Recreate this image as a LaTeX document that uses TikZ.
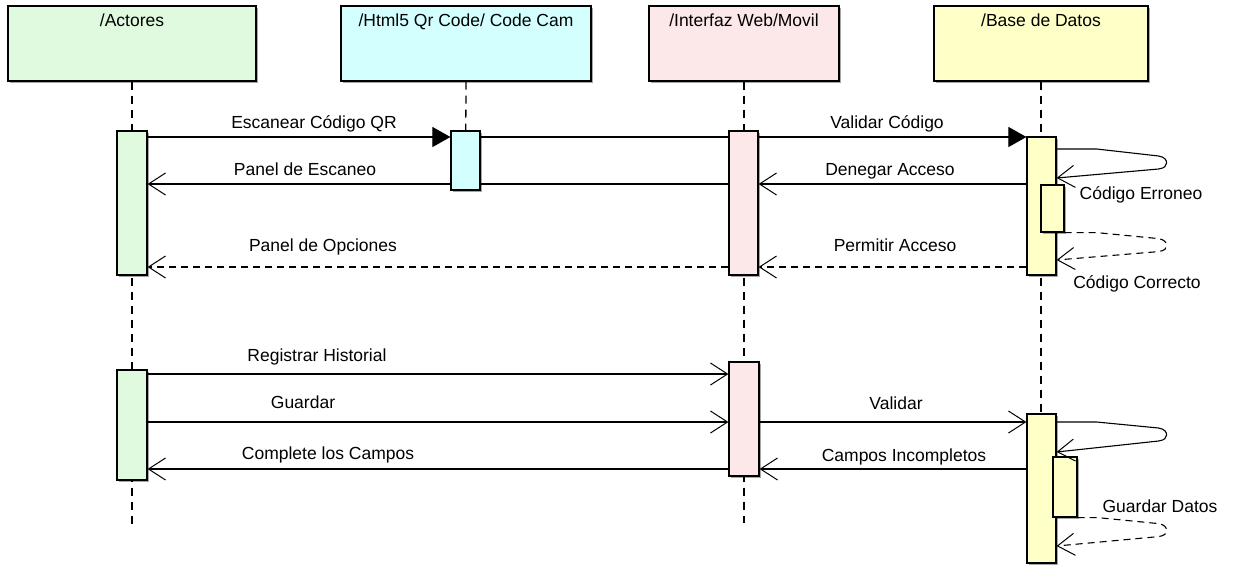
\documentclass[tikz,border=0pt]{standalone}
\usepackage{fontspec}
\setmainfont{Liberation Sans}
\usetikzlibrary{arrows.meta,shadows,backgrounds,calc}
\definecolor{cA}{RGB}{224,250,224}
\definecolor{cH}{RGB}{212,255,255}
\definecolor{cI}{RGB}{252,232,232}
\definecolor{cB}{RGB}{255,255,200}
\begin{document}
\begin{tikzpicture}[x=1pt,y=-1pt,
  shd/.style={drop shadow={shadow xshift=2pt,shadow yshift=-2pt,fill=black,opacity=0.35}},
  hdr/.style={draw, line width=1.2pt, shd, inner sep=0pt, minimum height=75pt},
  act/.style={draw, line width=1.2pt, shd, inner sep=0pt},
  lbl/.style={font=\fontsize{17.5}{20}\selectfont, anchor=base, inner sep=0pt},
  hlbl/.style={lbl, yshift=-21pt},
  lifeline/.style={dash pattern=on 8pt off 6pt, line width=1.3pt},
  sync/.style={line width=1.1pt, -{Triangle[length=18pt,width=20pt]}},
  msg/.style={line width=1.1pt, -{Straight Barb[length=17pt,width=22pt,line width=1pt]}},
  ret/.style={msg, dash pattern=on 7pt off 5pt},
]
\useasboundingbox (0,0) rectangle (1233,573);

% headers
\node[hdr, fill=cA, minimum width=248pt, label={[hlbl]north:/Actores}] (hA) at (132,43.5) {};
\node[hdr, fill=cH, minimum width=250pt, label={[hlbl]north:/Html5 Qr Code/ Code Cam}] (hH) at (466,43.5) {};
\node[hdr, fill=cI, minimum width=190pt, label={[hlbl]north:/Interfaz Web/Movil}] (hI) at (744,43.5) {};
\node[hdr, fill=cB, minimum width=214pt, label={[hlbl]north:/Base de Datos}] (hB) at (1041,43.5) {};

% activations
\node[act, fill=cA, minimum width=30pt, minimum height=144pt] (aA1) at (132,203) {};
\node[act, fill=cH, minimum width=29pt, minimum height=59pt] (aH) at (465.5,160.5) {};
\node[act, fill=cI, minimum width=29pt, minimum height=144pt] (aI1) at (743.5,203) {};
\node[act, fill=cB, minimum width=29pt, minimum height=138pt] (aB1) at (1041.5,206) {};
\node[act, fill=cB, minimum width=23pt, minimum height=47pt] (aB1n) at (1052.5,208.5) {};
\node[act, fill=cA, minimum width=30pt, minimum height=110pt] (aA2) at (132,425) {};
\node[act, fill=cI, minimum width=30pt, minimum height=114pt] (aI2) at (744,419) {};
\node[act, fill=cB, minimum width=29pt, minimum height=149pt] (aB2) at (1041.5,488.5) {};
\node[act, fill=cB, minimum width=24pt, minimum height=60pt] (aB2n) at (1065,487) {};

\coordinate (endA) at (132,528);
\coordinate (endI) at (744,523);
\coordinate (endB) at (1041,563);

\begin{scope}[on background layer]
\fill[white] (0,0) rectangle (1233,573);
\draw[lifeline] (hA.south) -- (endA);
\draw[lifeline] (hH.south) -- (aH.south);
\draw[lifeline] (hI.south) -- (endI);
\draw[lifeline] (hB.south) -- (endB);

% messages
\draw[sync] (aA1.east |- 0,137) -- (aH.west |- 0,137);
\draw[line width=1.1pt] (aH.east |- 0,137) -- (aI1.west |- 0,137);
\draw[sync] (aI1.east |- 0,137) -- (aB1.west |- 0,137);
\draw[msg] (aI1.west |- 0,184) -- (aA1.east |- 0,184);
\draw[msg] (aB1.west |- 0,184) -- (aI1.east |- 0,184);
\draw[ret] (aI1.west |- 0,267) -- (aA1.east |- 0,267);
\draw[ret] (aB1.west |- 0,267) -- (aI1.east |- 0,267);

\draw[msg] (aA2.east |- 0,374) -- (aI2.west |- 0,374);
\draw[msg] (aA2.east |- 0,422) -- (aI2.west |- 0,422);
\draw[msg] (aI2.west |- 0,469) -- (aA2.east |- 0,469);
\draw[msg] (aI2.east |- 0,422) -- (aB2.west |- 0,422);
\draw[msg] (aB2.west |- 0,469) -- (aI2.east |- 0,469);
\end{scope}

% self loops
\draw[msg] (aB1.east |- 0,149) -- ++(40,0) -- ++(62,7)
   .. controls +(6,1) and +(0,-3) .. ++(8,7)
   .. controls +(0,3) and +(6,-1) .. ++(-8,6) -- (aB1.east |- 0,178);
\draw[ret] (aB1n.south east) -- ++(32,0) -- ++(62,6)
   .. controls +(6,1) and +(0,-3) .. ++(8,7)
   .. controls +(0,3) and +(6,-1) .. ++(-8,6) -- (aB1.east |- 0,260);
\draw[msg] (aB2.east |- 0,422) -- ++(40,0) -- ++(62,6)
   .. controls +(6,1) and +(0,-3) .. ++(8,7)
   .. controls +(0,3) and +(6,-1) .. ++(-8,6) -- (aB2.east |- 0,452);
\draw[ret] (aB2n.south east) -- ++(20,0) -- ++(61,6)
   .. controls +(6,1) and +(0,-3) .. ++(8,7)
   .. controls +(0,3) and +(6,-1) .. ++(-8,6) -- (aB2.east |- 0,546);

% labels
\node[lbl] (l1) at (314,128) {Escanear Código QR};
\node[lbl] (l2) at (887,128) {Validar Código};
\node[lbl] (l3) at (305,175) {Panel de Escaneo};
\node[lbl] (l4) at (890,175) {Denegar Acceso};
\node[lbl] (l5) at (323,251) {Panel de Opciones};
\node[lbl] (l6) at (895,251) {Permitir Acceso};
\node[lbl] (l7) at (1141,199) {Código Erroneo};
\node[lbl] (l8) at (1137,288) {Código Correcto};
\node[lbl] (l9) at (317,361) {Registrar Historial};
\node[lbl] (l10) at (303,408) {Guardar};
\node[lbl] (l11) at (328,459) {Complete los Campos};
\node[lbl] (l12) at (896,409) {Validar};
\node[lbl] (l13) at (904,461) {Campos Incompletos};
\node[lbl] (l14) at (1160,512) {Guardar Datos};
\end{tikzpicture}
\end{document}
